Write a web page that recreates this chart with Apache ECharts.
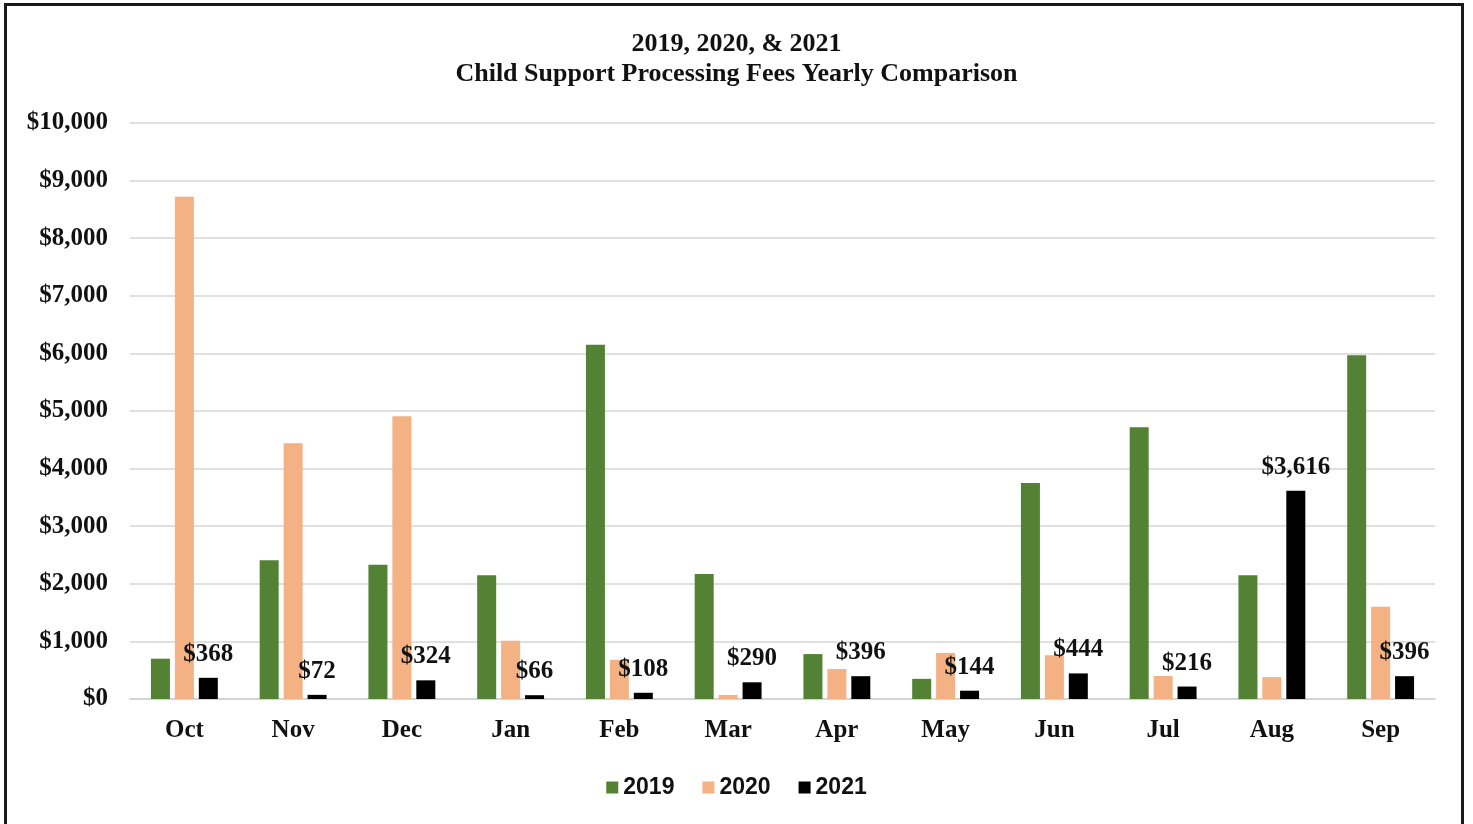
<!DOCTYPE html>
<html><head><meta charset="utf-8">
<script src="https://cdn.jsdelivr.net/npm/echarts@6/dist/echarts.min.js"></script>
<style>
html,body{margin:0;padding:0;background:#fff;overflow:hidden;}
#frame{position:absolute;left:4px;top:3px;width:1460px;height:830px;border:3px solid #1a1a1a;box-sizing:border-box;}
#c{position:absolute;left:0;top:0;width:1473px;height:824px;}
</style></head><body>
<div id="frame"></div>
<div id="c"></div>
<script>
const categories = ['Oct','Nov','Dec','Jan','Feb','Mar','Apr','May','Jun','Jul','Aug','Sep'];
const fees2019 = [700, 2410, 2330, 2150, 6150, 2170, 780, 350, 3750, 4720, 2150, 5970];
const fees2020 = [8720, 4440, 4910, 1010, 680, 70, 520, 800, 760, 400, 380, 1600];
const fees2021 = [368, 72, 324, 66, 108, 290, 396, 144, 444, 216, 3616, 396];
const yTicks = [0, 1000, 2000, 3000, 4000, 5000, 6000, 7000, 8000, 9000, 10000];

const serif = '"Liberation Serif","Times New Roman",serif';
const money = v => '$' + v.toLocaleString('en-US');
const chart = echarts.init(document.getElementById('c'));
chart.setOption({
  animation: false,
  title: {
    text: '2019, 2020, & 2021\nChild Support Processing Fees Yearly Comparison',
    left: 'center', top: 24,
    textStyle: {fontFamily: serif, fontWeight: 'bold', fontSize: 26, color: '#111', lineHeight: 30}
  },
  legend: {
    bottom: 20, left: 'center', itemWidth: 12, itemHeight: 12, itemGap: 28,
    icon: 'rect',
    textStyle: {fontFamily: '"Liberation Sans",Arial,sans-serif', fontWeight: 'bold', fontSize: 23, color: '#111'},
    data: ['2019','2020','2021']
  },
  grid: {left: 130, right: 38, top: 123, bottom: 125, containLabel: false},
  xAxis: {
    type: 'category', data: categories,
    axisLine: {lineStyle: {color: '#d0d0d0', width: 1.5}},
    axisTick: {show: false},
    axisLabel: {fontFamily: serif, fontWeight: 'bold', fontSize: 25, color: '#111', margin: 19}
  },
  yAxis: {
    type: 'value', min: yTicks[0], max: yTicks[yTicks.length-1], interval: 1000,
    axisLine: {show: false}, axisTick: {show: false},
    splitLine: {lineStyle: {color: '#d6d6d6', width: 1.5}},
    axisLabel: {fontFamily: serif, fontWeight: 'bold', fontSize: 25, color: '#111', margin: 22, formatter: money}
  },
  series: [
    {name: '2019', type: 'bar', data: fees2019, barWidth: 19, barGap: '26%', itemStyle: {color: '#548235'}},
    {name: '2020', type: 'bar', data: fees2020, barWidth: 19, barGap: '26%', itemStyle: {color: '#f4b183'}},
    {name: '2021', type: 'bar', data: fees2021, barWidth: 19, barGap: '26%', itemStyle: {color: '#000000'},
     label: {show: true, position: 'top', distance: 11, formatter: p => money(p.value),
       fontFamily: serif, fontWeight: 'bold', fontSize: 25, color: '#111'}}
  ]
});
</script>
</body></html>
